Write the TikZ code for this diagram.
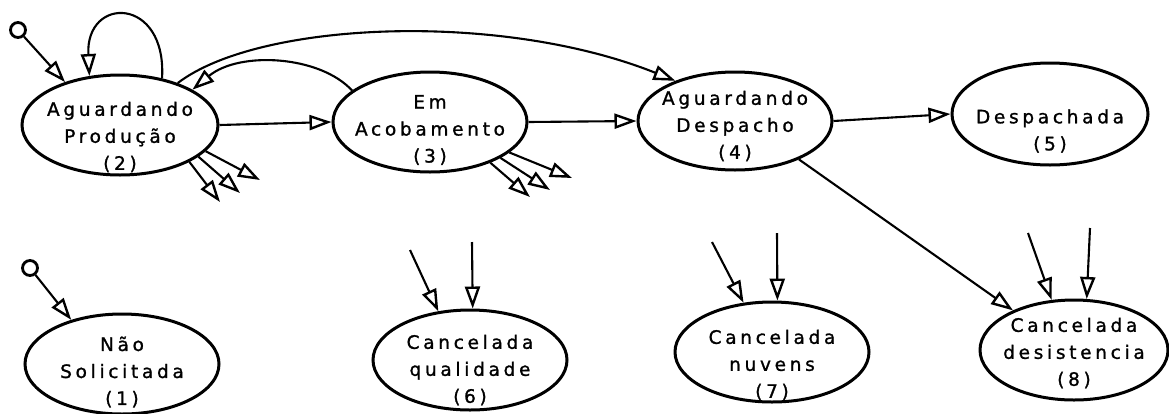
\documentclass[tikz,border=0pt]{standalone}
\usepackage{fontspec}
\usetikzlibrary{shapes.geometric,arrows.meta}
\newfontfamily\lbfont[LetterSpace=20, FakeBold=1.2]{DejaVu Sans}
\tikzset{
  statebox/.style={draw, ellipse, line width=3pt, inner sep=0pt},
  lbl/.style={align=center, inner sep=0pt, font={\fontsize{18.5}{27}\lbfont\selectfont}},
  initc/.style={draw, circle, line width=2.8pt, minimum size=15pt, inner sep=0pt},
  tr/.style={line width=2.1pt, -{Triangle[open, length=22pt, width=15pt, line width=2.4pt]}},
}
\begin{document}
\begin{tikzpicture}[x=1pt, y=-1pt]
\useasboundingbox (0,0) rectangle (1169,413);

% states
\node[statebox, minimum width=196pt, minimum height=100pt,
  label={[lbl, yshift=-12pt]center:{Aguardando\\Produção\\(2)}}] (N2) at (120,125) {};
\node[statebox, minimum width=194pt, minimum height=100pt,
  label={[lbl, yshift=-8pt]center:{Em\\Acobamento\\(3)}}] (N3) at (430,122) {};
\node[statebox, minimum width=194pt, minimum height=98pt,
  label={[lbl, yshift=-5pt]center:{Aguardando\\Despacho\\(4)}}] (N4) at (735,121) {};
\node[statebox, minimum width=196pt, minimum height=102pt,
  label={[lbl, yshift=-17pt]center:{Despachada\\(5)}}] (N5) at (1050,114) {};
\node[statebox, minimum width=194pt, minimum height=100pt,
  label={[lbl, yshift=-8pt]center:{Não\\Solicitada\\(1)}}] (N1) at (122,364) {};
\node[statebox, minimum width=194pt, minimum height=100pt,
  label={[lbl, yshift=-10pt]center:{Cancelada\\qualidade\\(6)}}] (N6) at (470,360) {};
\node[statebox, minimum width=194pt, minimum height=100pt,
  label={[lbl, yshift=-13pt]center:{Cancelada\\nuvens\\(7)}}] (N7) at (772,352) {};
\node[statebox, minimum width=188pt, minimum height=100pt,
  label={[lbl, yshift=-3pt]center:{Cancelada\\desistencia\\(8)}}] (N8) at (1074,350) {};

% initial markers
\node[initc] (i2) at (18,30) {};
\node[initc] (i1) at (30,268) {};

% free ends
\coordinate (a1) at (220,202);
\coordinate (a2) at (240,193);
\coordinate (a3) at (260,180);
\coordinate (b1) at (530,197);
\coordinate (b2) at (550,190);
\coordinate (b3) at (572,178);
\coordinate (s6a) at (410,250);
\coordinate (s6b) at (472,242);
\coordinate (s7a) at (712,242);
\coordinate (s7b) at (777,233);
\coordinate (s8a) at (1028,233);
\coordinate (s8b) at (1090,228);

% connectors
\draw[tr] (i2) -- (N2.142);
\draw[tr] (i1) -- (N1.139);
\draw[tr] (N2.48) .. controls +(5,-82) and +(-4,-81) .. (N2.122);
\draw[tr] (N2.36) .. controls +(81,-62) and +(-175,-70) .. (N4.146);
\draw[tr] (N3.158) .. controls +(-32,-35) and +(47,-39) .. (N2.26);
\draw[tr] (N2.east) -- (N3.west);
\draw[tr] (N3.east) -- (N4.west);
\draw[tr] (N4.east) -- (N5.west);
\draw[tr] (N4.-31) -- (N8.147);

\draw[tr] (N2.-28) -- (a1);
\draw[tr] (N2.-22) -- (a2);
\draw[tr] (N2.-17) -- (a3);
\draw[tr] (N3.-34) -- (b1);
\draw[tr] (N3.-27) -- (b2);
\draw[tr] (N3.-21) -- (b3);

\draw[tr] (s6a) -- (N6.123);
\draw[tr] (s6b) -- (N6.87);
\draw[tr] (s7a) -- (N7.120);
\draw[tr] (s7b) -- (N7.84);
\draw[tr] (s8a) -- (N8.114);
\draw[tr] (s8b) -- (N8.76);
\end{tikzpicture}
\end{document}
